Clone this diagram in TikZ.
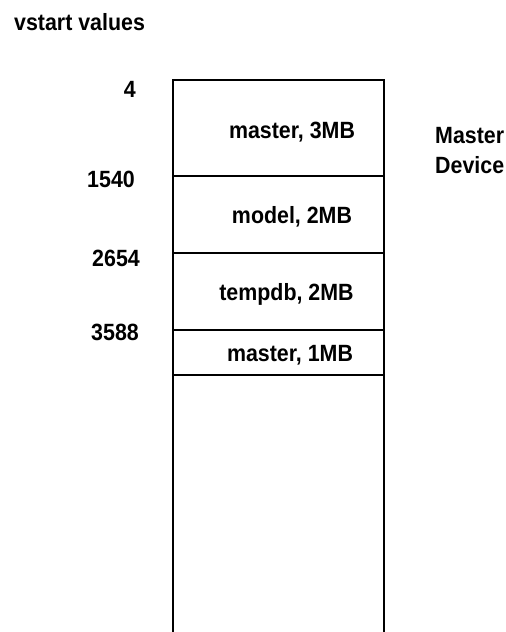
\documentclass[tikz,border=0pt]{standalone}
\usepackage{fontspec}
\setmainfont{Liberation Sans}[FakeStretch=0.91]
\begin{document}
\begin{tikzpicture}[x=1pt,y=-1pt,
  lbl/.style={inner sep=0pt,font=\fontsize{23.5}{30}\selectfont\bfseries},
  addr/.style={lbl,anchor=base east},
  seg/.style={lbl,anchor=base},
  rule/.style={line width=1.5pt,black}]
\useasboundingbox (0,0) rectangle (506,632);
\fill[white] (0,0) rectangle (506,632);

% heading
\node[lbl,anchor=base west] (head) at (14,30) {vstart values};

% device column, open at the bottom
\coordinate (bl) at (173,632);
\coordinate (tl) at (173,80);
\coordinate (tr) at (384,80);
\coordinate (br) at (384,632);
\draw[rule] (bl) -- (tl) -- (tr) -- (br);
\foreach \y/\n in {176/a,253/b,330/c,375/d}{
  \coordinate (l\n) at (173,\y);
  \coordinate (r\n) at (384,\y);
  \draw[rule] (l\n) -- (r\n);
}

% segments
\node[seg] (s1) at (292,138) {master, 3MB};
\node[seg] (s2) at (292,223) {model, 2MB};
\node[seg] (s3) at (286.5,300.5) {tempdb, 2MB};
\node[seg] (s4) at (290,361) {master, 1MB};

% vstart addresses
\node[addr] (v1) at (136,97) {4};
\node[addr] (v2) at (135,187) {1540};
\node[addr] (v3) at (140,266.5) {2654};
\node[addr] (v4) at (139,340) {3588};

% device label
\node[lbl,anchor=base west,align=left] (dev) at (435,173) {Master\\Device};
\end{tikzpicture}
\end{document}
